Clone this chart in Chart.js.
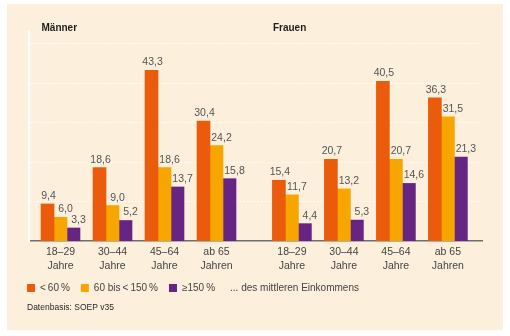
<!DOCTYPE html>
<html lang="de">
<head>
<meta charset="utf-8">
<title>Armutsrisiko nach Alter und Geschlecht</title>
<script src="https://cdn.jsdelivr.net/npm/chart.js@4.4.1/dist/chart.umd.min.js"></script>
<style>
  html, body { margin: 0; padding: 0; background: #fff; }
  #wrap { position: relative; width: 510px; height: 336px; }
  #panel { position: absolute; left: 7px; top: 4px; width: 496px; height: 326px; background: #fcefdc; }
  #chart { position: absolute; left: 0; top: 0; }
</style>
</head>
<body>
<div id="wrap">
  <div id="panel"></div>
  <canvas id="chart" width="510" height="336"></canvas>
</div>
<script>
// Gruppen und Altersklassen
var groups = ['Männer', 'Frauen'];
var ageLabels = [['18–29', 'Jahre'], ['30–44', 'Jahre'], ['45–64', 'Jahre'], ['ab 65', 'Jahren']];
// Lage der Altersklassen auf der x-Achse (Frauen mit Abstand dahinter)
var xPos = [0, 1, 2, 3, 4.45, 5.45, 6.45, 7.45];

// Einkommensgruppen, Anteile in %
var seriesNames = ['<\u202f60\u202f%', '60 bis\u202f<\u202f150\u202f%', '≥150\u202f%'];
var seriesColors = ['#ea5b0c', '#f7a600', '#662483'];
var under60 = [9.4, 18.6, 43.3, 30.4, 15.4, 20.7, 40.5, 36.3];
var mid60to150 = [6.0, 9.0, 18.6, 24.2, 11.7, 13.2, 20.7, 31.5];
var over150 = [3.3, 5.2, 13.7, 15.8, 4.4, 5.3, 14.6, 21.3];
var yTicks = [10, 20, 30, 40, 50];

var note = '... des mittleren Einkommens';
var source = 'Datenbasis: SOEP v35';

var FONT = "'Liberation Sans', Arial, sans-serif";

function toPoints(values) {
	return values.map(function (v, i) { return { x: xPos[i], y: v }; });
}

// Zahlen über den Balken, Überschriften, Legende und Quelle
var extras = {
	id: 'extras',
	afterDatasetsDraw: function (chart) {
		var ctx = chart.ctx,
			xs = chart.scales.x;
		ctx.save();

		ctx.font = '10.5px ' + FONT;
		ctx.fillStyle = '#555';
		ctx.textAlign = 'center';
		ctx.textBaseline = 'alphabetic';
		chart.data.datasets.forEach(function (ds, i) {
			chart.getDatasetMeta(i).data.forEach(function (bar, j) {
				var txt = ds.data[j].y.toFixed(1).replace('.', ',');
				ctx.fillText(txt, bar.x + (i ? 5 : 1), bar.y - 5);
			});
		});

		// Männer / Frauen
		ctx.font = 'bold 10px ' + FONT;
		ctx.fillStyle = '#1e1e1e';
		ctx.textAlign = 'left';
		ctx.textBaseline = 'middle';
		ctx.fillText(groups[0], xs.getPixelForValue(xPos[0]) - 19, 28);
		ctx.fillText(groups[1], xs.getPixelForValue(xPos[4]) - 19, 28);

		// Legende
		var x = 27, y = 288;
		ctx.font = '10px ' + FONT;
		chart.data.datasets.forEach(function (ds) {
			ctx.fillStyle = ds.backgroundColor;
			ctx.fillRect(x, y - 4, 8, 8);
			x += 13;
			ctx.fillStyle = '#444';
			ctx.fillText(ds.label, x, y);
			x += ctx.measureText(ds.label).width + 11;
		});
		ctx.fillText(note, x + 4, y);

		ctx.font = '8.5px ' + FONT;
		ctx.fillStyle = '#2a2a2a';
		ctx.fillText(source, 27, 308);
		ctx.restore();
	}
};

var chart = new Chart(document.getElementById('chart'), {
	type: 'bar',
	data: {
		datasets: [
			{ label: seriesNames[0], data: toPoints(under60), backgroundColor: seriesColors[0] },
			{ label: seriesNames[1], data: toPoints(mid60to150), backgroundColor: seriesColors[1] },
			{ label: seriesNames[2], data: toPoints(over150), backgroundColor: seriesColors[2] }
		]
	},
	options: {
		responsive: false,
		animation: false,
		barThickness: 13,
		layout: { padding: { left: 0, right: 28, top: 32, bottom: 0 } },
		plugins: { legend: { display: false }, tooltip: { enabled: false } },
		scales: {
			x: {
				type: 'linear',
				offset: false,
				min: -0.606,
				max: 8.106,
				grid: { display: false, drawTicks: false },
				border: { color: '#6e6e6e', width: 1.5 },
				afterBuildTicks: function (s) {
					s.ticks = xPos.map(function (v) { return { value: v }; });
				},
				afterFit: function (s) { s.height = 95; },
				ticks: {
					autoSkip: false,
					maxRotation: 0,
					padding: 5,
					color: '#444',
					font: { family: FONT, size: 10.5, lineHeight: 1.25 },
					callback: function (v, i) { return ageLabels[i % 4]; }
				}
			},
			y: {
				min: 0,
				max: 53,
				afterBuildTicks: function (s) {
					s.ticks = yTicks.map(function (v) { return { value: v }; });
				},
				afterFit: function (s) { s.width = 29; },
				ticks: { display: false },
				grid: { drawTicks: false, lineWidth: 1, color: '#ffffff' },
				border: { color: '#ffffff', width: 2, dash: [1.5, 2] }
			}
		}
	},
	plugins: [extras]
});
</script>
</body>
</html>
